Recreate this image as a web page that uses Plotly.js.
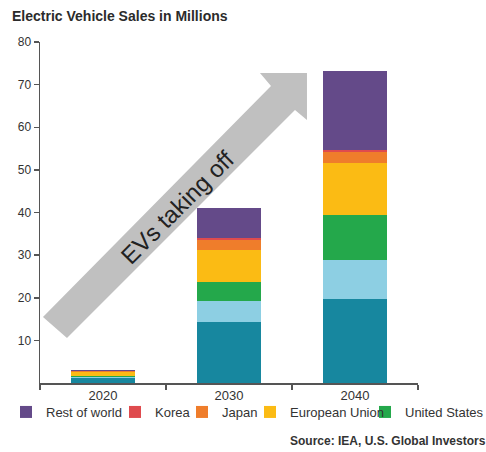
<!DOCTYPE html>
<html>
<head>
<meta charset="utf-8">
<script src="https://cdn.plot.ly/plotly-3.0.1.min.js"></script>
<style>html,body{margin:0;padding:0;background:#fff;}#chart{width:486px;height:452px;}</style>
</head>
<body>
<div id="chart"></div>
<script>
// ---- Data (millions of EV sales) ----
const years = ["2020", "2030", "2040"];
const china = [1.1, 14.2, 19.6];       // teal (legend entry cut off in the source)
const india = [0.2, 5.1, 9.3];         // light blue (legend entry cut off in the source)
const unitedStates = [0.4, 4.5, 10.5];
const europeanUnion = [0.9, 7.3, 12.2];
const japan = [0.2, 2.5, 2.6];
const korea = [0.05, 0.4, 0.5];
const restOfWorld = [0.15, 7.0, 18.4];
const yTicks = [10, 20, 30, 40, 50, 60, 70, 80];

const FONT = "Liberation Sans, Arial, sans-serif";

function bar(name, vals, color, legendId, show) {
  return {
    type: "bar", name: name, x: years, y: vals,
    marker: {color: color},
    showlegend: show, legend: legendId,
    hovertemplate: name + ": %{y}<extra></extra>"
  };
}

const traces = [
  bar("China", china, "#17879f", "legend", false),
  bar("India", india, "#8dcfe3", "legend", false),
  bar("United States", unitedStates, "#24a84b", "legend5", true),
  bar("European Union", europeanUnion, "#fbbb14", "legend4", true),
  bar("Japan", japan, "#ef7d2b", "legend3", true),
  bar("Korea", korea, "#df4b4e", "legend2", true),
  bar("Rest of world", restOfWorld, "#644a89", "legend", true)
];

function leg(xpx) {
  return {
    xref: "container", yref: "container",
    x: xpx / 486, y: 1 - 412 / 452, xanchor: "left", yanchor: "middle",
    orientation: "h", bgcolor: "rgba(0,0,0,0)", borderwidth: 0,
    font: {family: FONT, size: 13, color: "#333"},
    itemwidth: 30, tracegroupgap: 0
  };
}

// arrow in paper coordinates
const P = [
  [0.0079, 0.1935], [0.6111, 0.8710], [0.5820, 0.9091], [0.7063, 0.9091],
  [0.7063, 0.7713], [0.6746, 0.8006], [0.0714, 0.1320]
];
const arrowPath = "M" + P.map(p => p[0] + "," + p[1]).join(" L") + " Z";

const layout = {
  width: 486, height: 452,
  margin: {l: 40, r: 68, t: 42, b: 69},
  paper_bgcolor: "#fff", plot_bgcolor: "#fff",
  barmode: "stack", bargap: 0.49,
  font: {family: FONT, color: "#333"},
  title: {
    text: "<b>Electric Vehicle Sales in Millions</b>",
    font: {family: FONT, size: 14, color: "#2b2b2b"},
    xref: "container", yref: "container",
    x: 12 / 486, xanchor: "left", y: 1 - 16 / 452, yanchor: "middle"
  },
  xaxis: {
    type: "category", range: [-0.5, 2.5],
    showline: true, linecolor: "#555", linewidth: 1.5,
    ticks: "outside", ticklen: 5, tickcolor: "#555", tickwidth: 1.5,
    tickson: "boundaries",
    tickfont: {family: FONT, size: 13, color: "#333"},
    showgrid: false, zeroline: false
  },
  yaxis: {
    range: [0, 80], tickvals: yTicks,
    showline: true, linecolor: "#555", linewidth: 1.5,
    ticks: "outside", ticklen: 5, tickcolor: "#555", tickwidth: 1.5,
    tickfont: {family: FONT, size: 12, color: "#333"},
    showgrid: false, zeroline: false
  },
  shapes: [{
    type: "path", xref: "paper", yref: "paper", path: arrowPath,
    fillcolor: "#c0c0c0", line: {width: 0}, layer: "below"
  }],
  annotations: [
    {
      xref: "paper", yref: "paper", x: 0.3624, y: 0.5161,
      text: "EVs taking off", textangle: -45, showarrow: false,
      xanchor: "center", yanchor: "middle",
      font: {family: FONT, size: 24, color: "#222"}
    },
    {
      xref: "paper", yref: "paper", x: (288 - 40) / 378, y: (383 - 441) / 341,
      xanchor: "left", yanchor: "middle", showarrow: false,
      text: "<b>Source: IEA, U.S. Global Investors</b>",
      font: {family: FONT, size: 12, color: "#333"}
    }
  ],
  legend: leg(6),
  legend2: leg(115),
  legend3: leg(182),
  legend4: leg(250),
  legend5: leg(365)
};

Plotly.newPlot("chart", traces, layout, {displayModeBar: false, staticPlot: true});
</script>
</body>
</html>
